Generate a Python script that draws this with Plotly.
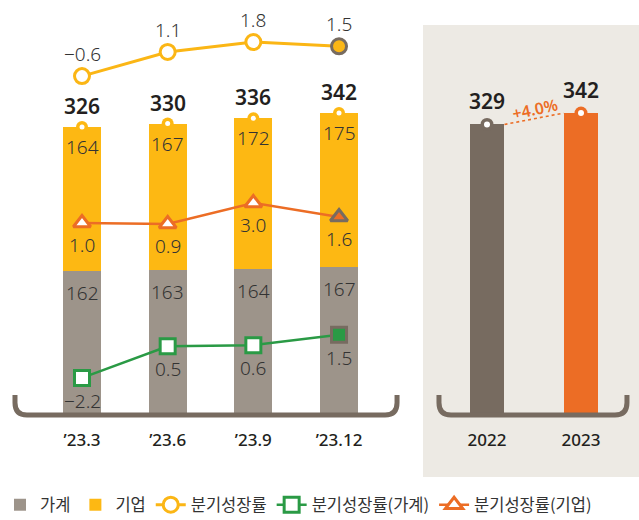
import plotly.graph_objects as go

# ---------------- data ----------------
quarters = ["\u201923.3", "\u201923.6", "\u201923.9", "\u201923.12"]
household = [162, 163, 164, 167]
enterprise = [164, 167, 172, 175]
totals = [326, 330, 336, 342]
growth_total = [-0.6, 1.1, 1.8, 1.5]
growth_household = [-2.2, 0.5, 0.6, 1.5]
growth_enterprise = [1.0, 0.9, 3.0, 1.6]
years = ["2022", "2023"]
annual = [329, 342]
annual_change = "+4.0%"

# ---------------- style ----------------
C_HH = "#9d948a"
C_ENT = "#fdb813"
C_TOT = "#fbb615"
C_GREEN = "#2a9a45"
C_ORANGE = "#ec6d25"
C_DARK = "#776b60"
C_BG = "#edeae4"
C_TEXT = "#333333"
C_BOLD = "#231f20"
NUM_FONT = "Noto Sans"
KR_FONT = "Noto Sans CJK KR"

W, H = 639, 520

def fmt(v):
    s = f"{abs(v):.1f}"
    return ("\u2212" + s) if v < 0 else s

fig = go.Figure()

# stacked bars
fig.add_trace(go.Bar(x=quarters, y=household, name="가계", marker=dict(color=C_HH, line=dict(width=0)),
                     width=0.444, xaxis="x", yaxis="y"))
fig.add_trace(go.Bar(x=quarters, y=enterprise, name="기업", marker=dict(color=C_ENT, line=dict(width=0)),
                     width=0.444, xaxis="x", yaxis="y"))
# annual bars
fig.add_trace(go.Bar(x=years, y=annual, marker=dict(color=[C_DARK, C_ORANGE], line=dict(width=0)),
                     width=0.372, xaxis="x2", yaxis="y2", showlegend=False))

# hooks on bar tops
fig.add_trace(go.Scatter(x=quarters, y=totals, mode="markers", xaxis="x", yaxis="y", showlegend=False,
                         marker=dict(symbol="circle", size=12, color=C_ENT, line=dict(width=0)), hoverinfo="skip"))
fig.add_trace(go.Scatter(x=quarters, y=totals, mode="markers", xaxis="x", yaxis="y", showlegend=False,
                         marker=dict(symbol="circle", size=5, color="white", line=dict(width=0)), hoverinfo="skip"))
fig.add_trace(go.Scatter(x=years, y=annual, mode="markers", xaxis="x2", yaxis="y2", showlegend=False,
                         marker=dict(symbol="circle", size=13, color=[C_DARK, C_ORANGE], line=dict(width=0)), hoverinfo="skip"))
fig.add_trace(go.Scatter(x=years, y=annual, mode="markers", xaxis="x2", yaxis="y2", showlegend=False,
                         marker=dict(symbol="circle", size=6, color="white", line=dict(width=0)), hoverinfo="skip"))

# growth lines
n = len(quarters)
fig.add_trace(go.Scatter(x=quarters, y=growth_total, name="분기성장률", mode="lines+markers",
                         xaxis="x", yaxis="y3", line=dict(color=C_TOT, width=3),
                         marker=dict(symbol="circle", size=15,
                                     color=["white"] * (n - 1) + [C_TOT],
                                     line=dict(width=3, color=[C_TOT] * (n - 1) + [C_DARK]))))
fig.add_trace(go.Scatter(x=quarters, y=growth_household, name="분기성장률(가계)", mode="lines+markers",
                         xaxis="x", yaxis="y5", line=dict(color=C_GREEN, width=2.5),
                         marker=dict(symbol="square", size=15,
                                     color=["white"] * (n - 1) + [C_GREEN],
                                     line=dict(width=3, color=[C_GREEN] * (n - 1) + [C_DARK]))))
fig.add_trace(go.Scatter(x=quarters, y=growth_enterprise, name="분기성장률(기업)", mode="lines+markers",
                         xaxis="x", yaxis="y4", line=dict(color=C_ORANGE, width=2.5),
                         marker=dict(symbol="triangle-up", size=15,
                                     color=["white"] * (n - 1) + [C_ORANGE],
                                     line=dict(width=3, color=[C_ORANGE] * (n - 1) + [C_DARK]))))

annotations = []
num_font = dict(family=NUM_FONT, size=19, color=C_TEXT, weight=300)
bold_font = dict(family=NUM_FONT, size=21, color=C_BOLD, weight=600)
for i, q in enumerate(quarters):
    annotations.append(dict(x=i, y=totals[i], xref="x", yref="y", text=str(totals[i]), showarrow=False,
                            yshift=21, font=bold_font))
    annotations.append(dict(x=i, y=totals[i], xref="x", yref="y", text=str(enterprise[i]), showarrow=False,
                            yshift=-20, font=num_font))
    annotations.append(dict(x=i, y=household[i], xref="x", yref="y", text=str(household[i]), showarrow=False,
                            yshift=-22, font=num_font))
    annotations.append(dict(x=i, y=growth_total[i], xref="x", yref="y3", text=fmt(growth_total[i]), showarrow=False,
                            yshift=22, font=num_font))
    annotations.append(dict(x=i, y=growth_enterprise[i], xref="x", yref="y4", text=fmt(growth_enterprise[i]),
                            showarrow=False, yshift=-22, font=num_font))
    annotations.append(dict(x=i, y=growth_household[i], xref="x", yref="y5", text=fmt(growth_household[i]),
                            showarrow=False, yshift=-23, font=num_font))
for i, yv in enumerate(years):
    annotations.append(dict(x=i, y=annual[i], xref="x2", yref="y2", text=str(annual[i]), showarrow=False,
                            yshift=23.5, font=bold_font))
annotations.append(dict(x=0.51, y=(annual[0] + annual[1]) / 2, xref="x2", yref="y2", text=annual_change,
                        showarrow=False, yshift=10, textangle=-12,
                        font=dict(family=NUM_FONT, size=16, color=C_ORANGE, weight=600)))

# ---------------- shapes ----------------
def bracket(x0, x1, rx, ry, ytop, ybot, xref, yref):
    path = (f"M {x0},{ytop} L {x0},{ybot + ry} Q {x0},{ybot} {x0 + rx},{ybot} "
            f"L {x1 - rx},{ybot} Q {x1},{ybot} {x1},{ybot + ry} L {x1},{ytop}")
    return dict(type="path", path=path, xref=xref, yref=yref, line=dict(color=C_DARK, width=5), layer="above")

shapes = [
    dict(type="rect", xref="paper", yref="paper", x0=423 / W, x1=1, y0=(H - 477) / H, y1=(H - 25) / H,
         fillcolor=C_BG, line=dict(width=0), layer="below"),
    bracket(-0.782, 3.677, 0.14, 14, 20.5, -2.3, "x", "y"),
    bracket(-0.511, 1.489, 0.128, 14, 20.5, -2.3, "x2", "y2"),
    dict(type="line", xref="x2", yref="y2", x0=0.186, x1=1 - 0.186, y0=annual[0], y1=annual[1],
         line=dict(color=C_ORANGE, width=1.6, dash="dot")),
]

bar_range = [-(H - 413) / 0.877, 413 / 0.877]
tickfont = dict(family=NUM_FONT, size=17, color=C_BOLD, weight=500)

fig.update_layout(
    width=W, height=H,
    margin=dict(l=0, r=0, t=0, b=0, autoexpand=False),
    paper_bgcolor="white", plot_bgcolor="rgba(0,0,0,0)",
    barmode="stack", bargap=0,
    xaxis=dict(domain=[0, 420 / W], range=[-0.957, 3.945], type="category", anchor="free",
               position=(H - 413) / H, showline=False, showgrid=False, zeroline=False, ticks="",
               ticklabelstandoff=15, tickfont=tickfont, automargin=False),
    xaxis2=dict(domain=[423 / W, 1], range=[-0.681, 1.617], type="category", anchor="free",
                position=(H - 413) / H, showline=False, showgrid=False, zeroline=False, ticks="",
                ticklabelstandoff=15, tickfont=tickfont, automargin=False),
    yaxis=dict(domain=[0, 1], range=bar_range, visible=False, anchor="x"),
    yaxis2=dict(domain=[0, 1], range=bar_range, visible=False, anchor="x2"),
    yaxis3=dict(range=[-(H - 67.6) / 14.2, 67.6 / 14.2], overlaying="y", visible=False, anchor="x"),
    yaxis4=dict(range=[-(H - 233) / 10, 233 / 10], overlaying="y", visible=False, anchor="x"),
    yaxis5=dict(range=[-(H - 352.2) / 11.7, 352.2 / 11.7], overlaying="y", visible=False, anchor="x"),
    showlegend=True,
    legend=dict(orientation="h", x=0.0, xanchor="left", y=15 / H, yanchor="middle",
                traceorder="normal", font=dict(family=KR_FONT, size=16.5, color=C_TEXT),
                bgcolor="rgba(0,0,0,0)", itemwidth=30, tracegroupgap=0),
    annotations=annotations,
    shapes=shapes,
)

fig.write_html("out.html", config={"displayModeBar": False},
               post_script="document.body.style.margin='0';document.body.style.overflow='hidden';")
